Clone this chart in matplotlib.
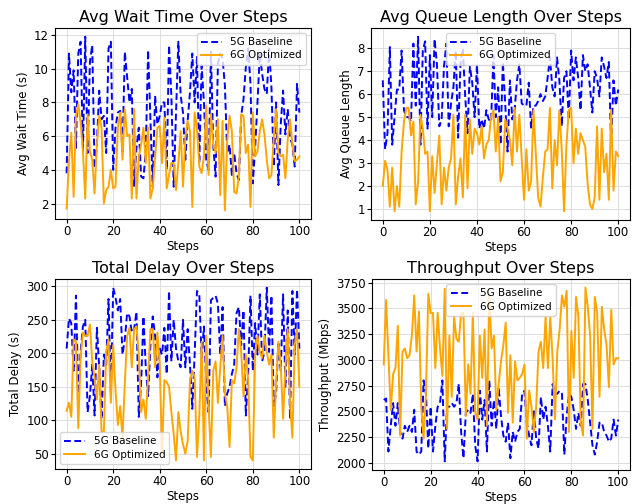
import matplotlib
matplotlib.use("Agg")
import matplotlib.pyplot as plt
import numpy as np

steps = list(range(101))

wait_5g = [3.8, 10.9, 8.6, 9.9, 5.3, 10.9, 11.6, 5.1, 11.9, 5.0,
           10.4, 11.4, 4.1, 5.5, 8.7, 7.0, 7.2, 5.0, 11.2, 11.6,
           4.0, 6.5, 7.4, 7.5, 5.1, 11.0, 9.5, 8.0, 8.8, 3.0,
           5.3, 6.5, 3.6, 3.5, 5.1, 11.1, 7.0, 3.0, 8.4, 6.7,
           7.2, 8.0, 8.0, 4.0, 11.4, 8.4, 3.0, 7.4, 11.6, 8.4,
           7.4, 4.6, 6.9, 8.6, 10.9, 8.0, 10.7, 4.4, 10.2, 8.0,
           4.6, 4.0, 11.0, 5.5, 3.6, 10.3, 10.9, 10.6, 9.0, 5.0,
           5.5, 3.7, 5.0, 3.8, 3.4, 7.2, 8.2, 10.1, 11.2, 9.1,
           3.2, 5.3, 8.0, 10.9, 9.7, 8.8, 8.5, 11.2, 8.9, 4.2,
           8.0, 3.1, 6.7, 8.7, 6.1, 7.6, 5.9, 5.5, 4.2, 9.1,
           7.4]
wait_6g = [1.7, 4.5, 6.2, 2.4, 7.2, 7.9, 6.8, 5.1, 2.3, 7.3,
           5.1, 4.6, 2.6, 5.5, 7.2, 6.5, 2.0, 2.8, 3.0, 4.0,
           2.9, 3.0, 6.5, 7.4, 4.6, 7.6, 6.0, 6.1, 2.3, 7.6,
           2.3, 4.8, 5.5, 6.5, 4.4, 6.5, 2.3, 2.9, 4.7, 6.5,
           6.6, 4.4, 7.1, 2.9, 3.7, 4.4, 4.4, 2.8, 4.4, 6.3,
           3.0, 5.9, 6.9, 6.3, 1.8, 7.4, 6.5, 4.2, 3.8, 4.8,
           7.8, 3.7, 7.3, 5.5, 5.0, 7.0, 2.5, 6.9, 1.6, 5.7,
           7.2, 6.3, 2.7, 2.6, 3.6, 7.3, 7.2, 5.0, 5.5, 1.8,
           7.4, 4.8, 5.1, 6.3, 7.0, 6.1, 4.6, 3.5, 3.7, 5.9,
           7.6, 5.0, 4.8, 4.9, 3.5, 5.8, 7.0, 5.5, 4.5, 4.6,
           4.8]

queue_5g = [6.6, 3.6, 4.3, 8.05, 3.8, 5.0, 6.2, 6.2, 7.9, 5.3,
            5.0, 5.0, 4.8, 8.2, 5.5, 8.5, 3.8, 7.9, 8.3, 4.5,
            7.7, 5.0, 8.4, 7.3, 4.6, 4.9, 7.2, 8.2, 4.6, 5.6,
            6.3, 7.9, 4.1, 7.3, 8.0, 5.9, 4.3, 7.2, 6.5, 5.0,
            7.3, 4.5, 4.9, 4.5, 5.3, 4.9, 4.8, 7.7, 5.0, 6.3,
            3.8, 7.4, 5.6, 3.5, 6.6, 4.9, 5.3, 6.6, 7.3, 5.6,
            5.5, 5.5, 6.5, 4.5, 5.5, 5.5, 5.7, 6.0, 5.7, 5.9,
            6.7, 7.6, 6.3, 5.9, 7.6, 6.6, 4.6, 6.7, 7.0, 4.9,
            7.9, 6.6, 7.6, 6.7, 5.3, 7.7, 7.0, 7.3, 6.3, 5.2,
            7.0, 6.7, 5.9, 7.6, 7.2, 6.7, 7.4, 3.8, 6.6, 5.5,
            6.2]
queue_6g = [2.0, 3.1, 2.7, 1.1, 2.8, 0.9, 2.0, 1.1, 3.5, 4.8,
            5.4, 5.4, 4.2, 4.8, 1.2, 2.2, 5.1, 4.5, 3.4, 3.5,
            0.9, 3.3, 1.7, 3.0, 4.2, 1.2, 2.8, 1.8, 2.8, 3.2,
            5.1, 1.2, 2.4, 3.2, 1.5, 5.1, 1.9, 4.9, 3.4, 4.5,
            4.3, 3.8, 4.6, 3.2, 3.8, 4.0, 5.0, 5.3, 3.5, 5.0,
            2.2, 2.6, 4.9, 4.5, 4.0, 2.9, 5.4, 3.5, 5.1, 3.2,
            1.4, 3.6, 1.8, 2.2, 5.3, 3.4, 1.5, 1.1, 2.4, 3.5,
            3.6, 5.4, 1.9, 4.0, 2.9, 5.3, 3.6, 0.9, 3.8, 5.3,
            5.4, 3.0, 4.5, 3.4, 4.3, 4.0, 3.7, 2.1, 1.2, 1.0,
            1.5, 4.6, 1.4, 4.5, 2.6, 3.4, 1.4, 5.3, 1.8, 3.5,
            3.3]

delay_5g = [207, 252, 245, 174, 286, 140, 202, 240, 250, 112,
            136, 183, 107, 238, 179, 102, 198, 183, 281, 140,
            298, 283, 264, 281, 198, 221, 260, 255, 231, 236,
            262, 105, 155, 255, 179, 136, 212, 255, 226, 164,
            207, 198, 238, 169, 293, 188, 250, 207, 188, 179,
            250, 179, 236, 183, 117, 198, 293, 288, 193, 240,
            155, 112, 279, 283, 286, 274, 198, 269, 121, 140,
            150, 169, 183, 260, 269, 212, 264, 107, 169, 286,
            174, 245, 198, 288, 188, 202, 298, 202, 286, 121,
            140, 217, 174, 288, 150, 264, 102, 293, 198, 295,
            207]
delay_6g = [114, 126, 105, 221, 217, 88, 193, 231, 226, 226,
            243, 188, 164, 131, 183, 83, 83, 202, 221, 126,
            212, 145, 93, 121, 74, 155, 226, 238, 179, 236,
            240, 198, 112, 131, 102, 164, 236, 236, 179, 231,
            183, 50, 160, 157, 150, 112, 79, 40, 112, 83,
            64, 50, 69, 160, 174, 164, 45, 107, 217, 40,
            226, 121, 45, 174, 188, 126, 179, 226, 140, 121,
            60, 160, 155, 179, 236, 202, 136, 198, 160, 45,
            40, 198, 226, 202, 193, 226, 202, 183, 198, 74,
            155, 217, 183, 102, 179, 236, 126, 74, 212, 236,
            150]

thr_5g = [2610, 2625, 2110, 2360, 2580, 2360, 2580, 2300, 2235, 2360,
          2300, 2360, 2300, 2515, 2110, 2080, 2110, 2800, 2670, 2140,
          2545, 2110, 2360, 2545, 2580, 2800, 2015, 2545, 2545, 2580,
          2545, 2580, 2765, 2300, 2045, 2485, 2515, 2485, 2670, 2170,
          2015, 2700, 2420, 2610, 2110, 2800, 2360, 2610, 2330, 2735,
          2455, 2265, 2205, 2390, 2045, 2300, 2205, 2300, 2330, 2670,
          2700, 2390, 2265, 2170, 2515, 2235, 2140, 2640, 2420, 2545,
          2360, 2110, 2765, 2670, 2670, 2700, 2670, 2080, 2455, 2670,
          2640, 2515, 2330, 2485, 2360, 2765, 2765, 2610, 2390, 2170,
          2080, 2205, 2390, 2390, 2300, 2265, 2205, 2235, 2420, 2265,
          2420]
thr_6g = [2955, 3580, 3045, 2515, 2860, 2920, 3330, 2265, 3080, 3110,
          3015, 3045, 3235, 3625, 3080, 3470, 2545, 2235, 2670, 3640,
          3455, 3455, 2920, 3455, 3110, 2845, 3690, 2330, 3235, 2640,
          3420, 3205, 3175, 3455, 3455, 2455, 2955, 2670, 3455, 2485,
          2420, 3235, 2825, 3295, 2360, 3640, 3110, 3235, 2515, 2765,
          2985, 3140, 3360, 2485, 3045, 2390, 2985, 2800, 2825, 2860,
          2955, 2235, 2700, 2545, 2300, 2545, 3080, 3175, 2920, 3420,
          2920, 3420, 3015, 2420, 3080, 3295, 3625, 3515, 3670, 2300,
          3280, 2825, 3610, 3420, 2390, 2265, 3700, 3515, 3235, 2330,
          3610, 3455, 2640, 3515, 3295, 3140, 2735, 3485, 2955, 3015,
          3015]

titles = ["Avg Wait Time Over Steps", "Avg Queue Length Over Steps",
          "Total Delay Over Steps", "Throughput Over Steps"]
ylabels = ["Avg Wait Time (s)", "Avg Queue Length", "Total Delay (s)", "Throughput (Mbps)"]
legend_labels = ["5G Baseline", "6G Optimized"]
x_ticks = [0, 20, 40, 60, 80, 100]
y_ticks = [[2, 4, 6, 8, 10, 12], [1, 2, 3, 4, 5, 6, 7, 8],
           [50, 100, 150, 200, 250, 300],
           [2000, 2250, 2500, 2750, 3000, 3250, 3500, 3750]]

series = [(wait_5g, wait_6g), (queue_5g, queue_6g), (delay_5g, delay_6g), (thr_5g, thr_6g)]
legend_locs = ["upper right", "upper center", "lower left", "upper center"]

W, H = 634, 504
fig = plt.figure(figsize=(W / 100, H / 100), dpi=100)
rects = [(55, 28, 311, 219), (371, 28, 630, 220), (55, 279, 311, 469), (372, 279, 630, 470)]

for i, (r, (s5, s6)) in enumerate(zip(rects, series)):
    x0, y0, x1, y1 = r
    ax = fig.add_axes([x0 / W, 1 - y1 / H, (x1 - x0) / W, (y1 - y0) / H])
    ax.plot(steps, s5, linestyle="--", color="blue", linewidth=1.4,
            dashes=(3.5, 1.8), label=legend_labels[0])
    ax.plot(steps, s6, linestyle="-", color="orange", linewidth=1.4, label=legend_labels[1])
    ax.set_title(titles[i], fontsize=11.5, pad=4)
    ax.set_xlabel("Steps", fontsize=8.5, labelpad=1)
    ax.set_ylabel(ylabels[i], fontsize=8.5, labelpad=3)
    ax.tick_params(labelsize=8.5, length=3, pad=1.5)
    ax.grid(True, color="#dddddd", linewidth=0.7)
    ax.set_xticks(x_ticks)
    ax.set_yticks(y_ticks[i])
    ax.legend(loc=legend_locs[i], fontsize=7.5, framealpha=0.8,
              handlelength=2.0, borderpad=0.4, labelspacing=0.3)

fig.savefig("out.png", dpi=100)
